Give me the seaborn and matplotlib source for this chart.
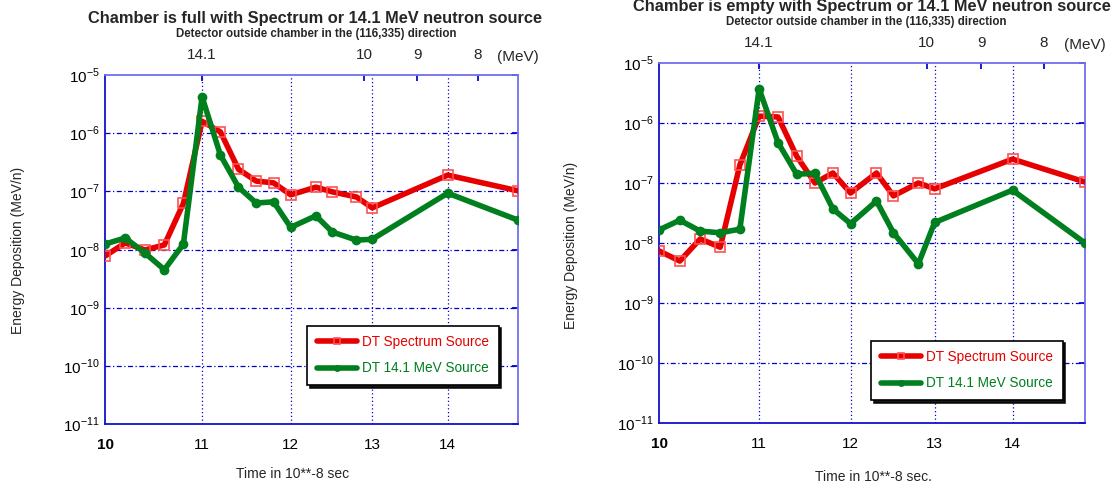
import matplotlib
matplotlib.use("Agg")
import matplotlib.pyplot as plt
import matplotlib.ticker as mticker
import seaborn as sns
import pandas as pd

sns.set_theme(style="white")
plt.rcParams['font.family'] = ['Liberation Sans', 'DejaVu Sans']
plt.rcParams['mathtext.fontset'] = 'custom'
plt.rcParams['mathtext.rm'] = 'Liberation Sans'

# ---- data ----
time = [10.0, 10.2, 10.4, 10.6, 10.8, 11.0, 11.2, 11.4, 11.6, 11.8, 12.0,
        12.3, 12.5, 12.8, 13.0, 14.0, 15.0]

full_spectrum = [7.7e-9, 1.3e-8, 9.8e-9, 1.2e-8, 6.2e-8, 1.6e-6, 1.05e-6, 2.4e-7,
                 1.5e-7, 1.4e-7, 8.7e-8, 1.18e-7, 9.8e-8, 8.0e-8, 5.2e-8, 1.9e-7, 1.02e-7]
full_14mev = [1.24e-8, 1.58e-8, 8.7e-9, 4.5e-9, 1.24e-8, 4.2e-6, 4.2e-7, 1.18e-7,
              6.3e-8, 6.6e-8, 2.4e-8, 3.8e-8, 2.0e-8, 1.45e-8, 1.5e-8, 9.3e-8, 3.2e-8]

empty_spectrum = [7.4e-9, 5.0e-9, 1.17e-8, 8.5e-9, 2.0e-7, 1.3e-6, 1.26e-6, 2.8e-7,
                  1.0e-7, 1.47e-7, 6.8e-8, 1.47e-7, 6.1e-8, 1.0e-7, 8.0e-8, 2.5e-7, 1.04e-7]
empty_14mev = [1.65e-8, 2.4e-8, 1.58e-8, 1.48e-8, 1.7e-8, 3.7e-6, 4.7e-7, 1.4e-7,
               1.45e-7, 3.7e-8, 2.1e-8, 5.0e-8, 1.48e-8, 4.5e-9, 2.2e-8, 7.6e-8, 1.0e-8]

x_ticks = [10, 11, 12, 13, 14]
x_tick_labels = ["10", "11", "12", "13", "14"]
energy_tick_pos = [11.0, 12.9, 13.59, 14.42]
energy_tick_labels = ["14.1", "10", "9", "8"]
y_exponents = [-11, -10, -9, -8, -7, -6, -5]

series_names = ["DT Spectrum Source", "DT 14.1 MeV Source"]
RED = "#e60000"
GREEN = "#007f1f"
BLUE = "#0000cc"

W, H = 1118, 486
fig = plt.figure(figsize=(W / 100, H / 100), dpi=100)

panels = [
    dict(px=(105, 75, 518, 424),
         spec=full_spectrum, mev=full_14mev,
         title="Chamber is full with Spectrum or 14.1 MeV neutron source",
         title_px=(315, 18), sub_px=(316, 34),
         xlabel="Time in 10**-8 sec", xlabel_px=(293, 474),
         ylabel_px=(18, 250), mev_y=57,
         legend_px=(307, 385)),
    dict(px=(659, 63, 1085, 423),
         spec=empty_spectrum, mev=empty_14mev,
         title="Chamber is empty with Spectrum or 14.1 MeV neutron source",
         title_px=(872, 7), sub_px=(866, 22),
         xlabel="Time in 10**-8 sec.", xlabel_px=(873, 477),
         ylabel_px=(571, 245), mev_y=45,
         legend_px=(871, 400)),
]


def fx(x):
    return x / W


def fy(y):
    return 1 - y / H


for p in panels:
    x0, y0, x1, y1 = p["px"]
    ax = fig.add_axes([fx(x0), fy(y1), (x1 - x0) / W, (y1 - y0) / H])
    df = pd.DataFrame({"time": time, "spec": p["spec"], "mev": p["mev"]})
    sns.lineplot(data=df, x="time", y="spec", ax=ax, color=RED, lw=4,
                 marker="s", markersize=7.5, markerfacecolor="none",
                 markeredgecolor="#ff5050", markeredgewidth=1.2,
                 label=series_names[0], zorder=3)
    sns.lineplot(data=df, x="time", y="mev", ax=ax, color=GREEN, lw=4,
                 marker="o", markersize=7, markeredgewidth=0,
                 label=series_names[1], zorder=4)
    ax.set_xscale("log")
    ax.set_yscale("log")
    ax.set_xlim(10, 15)
    ax.set_ylim(1e-11, 1e-5)

    ax.set_xticks(x_ticks)
    ax.xaxis.set_minor_locator(mticker.NullLocator())
    ax.set_xticklabels(x_tick_labels, fontsize=11)
    ax.get_xticklabels()[0].set_fontweight("bold")
    ax.set_yticks([10.0 ** e for e in y_exponents])
    ax.set_yticklabels([r"$10^{%d}$" % e for e in y_exponents], fontsize=11)
    ax.yaxis.set_minor_locator(mticker.NullLocator())
    ax.tick_params(axis="both", direction="in", color=BLUE, length=4, pad=10,
                   labelcolor="black")
    ax.tick_params(axis="y", pad=4, right=True)

    ax.set_xlabel("")
    ax.set_ylabel("")
    ax.grid(False)
    for y in [10.0 ** e for e in y_exponents[1:-1]]:
        ax.axhline(y, color=BLUE, lw=0.9, ls=(0, (4, 2, 1, 2)), zorder=1)
    for x in x_ticks[1:]:
        ax.axvline(x, color=BLUE, lw=0.9, ls=(0, (1, 2)), zorder=1)

    for side in ["left", "bottom"]:
        ax.spines[side].set_color("#1010d0")
        ax.spines[side].set_linewidth(1.3)
    for side in ["top", "right"]:
        ax.spines[side].set_color("#7070ee")
        ax.spines[side].set_linewidth(1.3)

    sec = ax.secondary_xaxis("top")
    sec.set_xticks(energy_tick_pos)
    sec.set_xticklabels(energy_tick_labels, fontsize=11)
    sec.xaxis.set_minor_locator(mticker.NullLocator())
    sec.tick_params(direction="in", color=BLUE, length=4, pad=9)
    sec.spines["top"].set_visible(False)

    fig.text(fx(x1), fy(p["mev_y"]), "(MeV)", fontsize=11, ha="center", va="center")

    fig.text(fx(p["title_px"][0]), fy(p["title_px"][1]), p["title"],
             fontsize=11.8, fontweight="bold", ha="center", va="center")
    fig.text(fx(p["sub_px"][0]), fy(p["sub_px"][1]),
             "Detector outside chamber in the (116,335) direction",
             fontsize=8.3, fontweight="bold", ha="center", va="center")
    fig.text(fx(p["xlabel_px"][0]), fy(p["xlabel_px"][1]), p["xlabel"],
             fontsize=10, ha="center", va="center")
    fig.text(fx(p["ylabel_px"][0]), fy(p["ylabel_px"][1]),
             "Energy Deposition (MeV/n)", fontsize=10,
             ha="center", va="center", rotation=90)

    # legend
    lx, ly = p["legend_px"]
    handles, labels = ax.get_legend_handles_labels()
    leg = ax.legend(handles, labels, loc="lower left",
                    bbox_to_anchor=((lx - x0) / (x1 - x0), (y1 - ly) / (y1 - y0)),
                    frameon=True, fancybox=False,
                    shadow={"color": "black", "alpha": 0.9, "ox": 2, "oy": -2},
                    fontsize=9.8, handlelength=3.0, borderpad=0.7,
                    labelspacing=0.9, handletextpad=0.35, borderaxespad=0)
    leg.get_frame().set_edgecolor("black")
    leg.get_frame().set_linewidth(1.2)
    for t, c in zip(leg.get_texts(), [RED, GREEN]):
        t.set_color(c)
    for lh in leg.get_lines():
        lh.set_markersize(5)

fig.savefig("out.png", dpi=100)
